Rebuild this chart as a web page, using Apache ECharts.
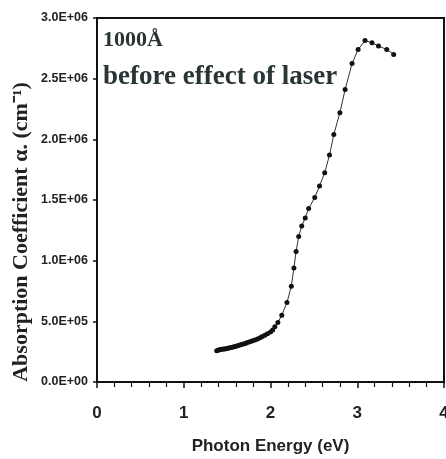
<!DOCTYPE html>
<html>
<head>
<meta charset="utf-8">
<script src="https://cdn.jsdelivr.net/npm/echarts@6/dist/echarts.min.js"></script>
<style>
html,body{margin:0;padding:0;background:#fff;overflow:hidden;}
#chart{width:446px;height:459px;}
</style>
</head>
<body>
<div id="chart"></div>
<script>
// Photon energy (eV)
const energy = [
  1.38, 1.395, 1.41, 1.425, 1.44, 1.46, 1.475, 1.495, 1.51, 1.53,
  1.55, 1.57, 1.59, 1.61, 1.63, 1.655, 1.675, 1.70, 1.72, 1.745,
  1.77, 1.795, 1.82, 1.85, 1.88, 1.905, 1.935, 1.965, 2.00, 2.025,
  2.05, 2.085, 2.13, 2.19, 2.24, 2.27, 2.295, 2.325, 2.36, 2.40,
  2.44, 2.51, 2.565, 2.625, 2.68, 2.73, 2.80, 2.86, 2.94, 3.01,
  3.09, 3.17, 3.245, 3.34, 3.42
];
// Absorption coefficient (cm^-1)
const alpha = [
  258000, 262000, 265000, 267000, 269000, 271000, 273000, 276000, 279000, 282000,
  285000, 289000, 293000, 297000, 301000, 306000, 311000, 316000, 321000, 327000,
  333000, 340000, 347000, 355000, 364000, 374000, 385000, 398000, 412000, 428000,
  455000, 490000, 550000, 655000, 790000, 940000, 1075000, 1200000, 1285000, 1352000,
  1430000, 1520000, 1615000, 1725000, 1870000, 2040000, 2220000, 2410000, 2625000, 2740000,
  2815000, 2795000, 2770000, 2740000, 2700000
];
const xTicks = [0, 1, 2, 3, 4];
const yTicks = [0, 500000, 1000000, 1500000, 2000000, 2500000, 3000000];
const label1 = '1000Å';
const label2 = 'before effect of laser';
const xName = 'Photon Energy (eV)';
const yName = 'Absorption Coefficient α. (cm⁻¹)';

function sci(v) {
  if (v === 0) return '0.0E+00';
  const e = Math.floor(Math.log10(Math.abs(v)) + 1e-9);
  const m = v / Math.pow(10, e);
  return m.toFixed(1) + 'E+' + (e < 10 ? '0' + e : '' + e);
}

const chart = echarts.init(document.getElementById('chart'), null, {renderer: 'canvas', width: 446, height: 459});
chart.setOption({
  animation: false,
  backgroundColor: '#fff',
  grid: {
    left: 97, right: 2, top: 18, bottom: 77,
    show: true, borderColor: '#111', borderWidth: 2,
    containLabel: false, outerBoundsMode: 'none'
  },
  xAxis: {
    type: 'value',
    min: xTicks[0], max: xTicks[xTicks.length - 1], interval: 1,
    name: xName, nameLocation: 'middle', nameGap: 56,
    nameTextStyle: {fontFamily: 'Liberation Sans Narrow, Liberation Sans, Arial', fontWeight: 'bold', fontSize: 17, color: '#222'},
    axisLine: {show: true, lineStyle: {color: '#111', width: 2}},
    axisTick: {show: true, inside: false, length: 6, lineStyle: {color: '#111', width: 1.5}},
    minorTick: {show: true, splitNumber: 5, length: 5, lineStyle: {color: '#111', width: 1.2}},
    splitLine: {show: false},
    axisLabel: {margin: 23, hideOverlap: false, fontFamily: 'Liberation Sans Narrow, Liberation Sans, Arial', fontWeight: 'bold', fontSize: 17, color: '#222'}
  },
  yAxis: {
    type: 'value',
    min: yTicks[0], max: yTicks[yTicks.length - 1], interval: 500000,
    axisLine: {show: true, lineStyle: {color: '#111', width: 2}},
    axisTick: {show: true, inside: false, length: 4, lineStyle: {color: '#111', width: 1.5}},
    splitLine: {show: false},
    axisLabel: {margin: 9, formatter: sci, fontFamily: 'Liberation Sans Narrow, Liberation Sans, Arial', fontWeight: 'bold', fontSize: 12.5, color: '#222'}
  },
  graphic: [
    {type: 'text', left: 103, top: 29, style: {text: label1, font: 'bold 22px "Liberation Serif", serif', fill: '#2a3535'}},
    {type: 'text', left: 103, top: 64, style: {text: label2, font: 'bold 27px "Liberation Serif", serif', fill: '#2a3535'}},
    {type: 'text', x: 21, y: 232, rotation: Math.PI / 2,
     style: {text: yName, font: 'bold 22px "Liberation Serif", serif', fill: '#222', align: 'center', verticalAlign: 'middle'}}
  ],
  series: [{
    type: 'line',
    data: energy.map((e, i) => [e, alpha[i]]),
    symbol: 'circle', symbolSize: 5,
    lineStyle: {color: '#333', width: 1},
    itemStyle: {color: '#111'}
  }]
});
</script>
</body>
</html>
